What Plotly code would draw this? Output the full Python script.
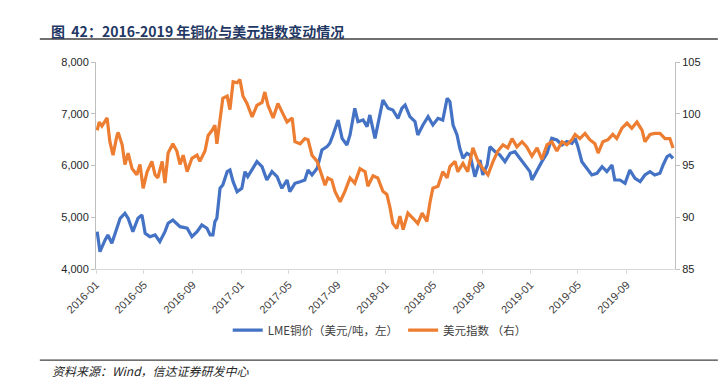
import plotly.graph_objects as go

# LME copper price (USD/t, left axis)
cu_dates = ["2016-01-04","2016-01-11","2016-01-24","2016-01-31","2016-02-10","2016-02-18","2016-03-02","2016-03-14",
            "2016-03-22","2016-04-03","2016-04-16","2016-04-26","2016-05-04","2016-05-16","2016-05-29","2016-06-10",
            "2016-06-23","2016-07-01","2016-07-13","2016-07-31","2016-08-18","2016-08-30","2016-09-12","2016-09-24",
            "2016-10-07","2016-10-15","2016-10-20","2016-10-22","2016-10-27","2016-11-01","2016-11-09","2016-11-16",
            "2016-11-27","2016-12-04","2016-12-12","2016-12-22","2017-01-03","2017-01-11","2017-01-18","2017-01-29",
            "2017-02-10","2017-02-23","2017-03-07","2017-03-20","2017-04-02","2017-04-14","2017-04-27","2017-05-04",
            "2017-05-17","2017-05-30","2017-06-11","2017-06-19","2017-06-29","2017-07-12","2017-07-24","2017-08-06",
            "2017-08-13","2017-08-21","2017-09-03","2017-09-13","2017-09-25","2017-10-03","2017-10-15","2017-10-23",
            "2017-11-05","2017-11-15","2017-11-22","2017-12-05","2017-12-18","2017-12-25","2018-01-07","2018-01-19",
            "2018-02-01","2018-02-11","2018-02-19","2018-03-03","2018-03-16","2018-03-23","2018-04-05","2018-04-18",
            "2018-04-30","2018-05-13","2018-05-25","2018-06-05","2018-06-12","2018-06-20","2018-06-30","2018-07-07",
            "2018-07-15","2018-07-25","2018-08-02","2018-08-14","2018-08-27","2018-09-03","2018-09-14","2018-09-21",
            "2018-10-04","2018-10-16","2018-10-29","2018-11-11","2018-11-23","2018-12-06","2018-12-18","2018-12-31",
            "2019-01-05","2019-01-18","2019-01-30","2019-02-12","2019-02-24","2019-03-09","2019-03-22","2019-04-03",
            "2019-04-16","2019-04-24","2019-05-01","2019-05-11","2019-05-24","2019-06-05","2019-06-18","2019-07-01",
            "2019-07-13","2019-07-26","2019-08-02","2019-08-15","2019-08-28","2019-09-09","2019-09-22","2019-10-05",
            "2019-10-17","2019-10-30","2019-11-11","2019-11-24","2019-12-02","2019-12-12","2019-12-19","2019-12-27"]
cu_values = [4722,4335,4561,4658,4497,4690,4980,5077,
             4980,4722,4980,5044,4690,4625,4658,4528,
             4722,4884,4947,4818,4787,4625,4722,4851,
             4787,4658,4658,4660,4915,4980,5560,5624,
             5881,5913,5688,5494,5560,5881,5784,5913,
             6074,5977,5720,5881,5784,5560,5720,5494,
             5656,5688,5720,5913,5817,5946,6300,6364,
             6429,6590,6879,6525,6396,6590,7106,6847,
             6879,6750,6976,6525,6976,7266,7106,7073,
             6912,7106,7169,6943,6847,6590,6783,6943,
             6783,6912,6879,7298,7233,6783,6590,6332,
             6139,6236,6203,5784,6107,5817,6010,6364,
             6267,6203,6074,6236,6267,6139,6010,5881,
             5720,5913,6074,6236,6525,6493,6396,6461,
             6429,6525,6364,6074,5946,5817,5850,5977,
             5881,6010,5720,5720,5656,5913,5753,5688,
             5817,5881,5817,5850,6010,6171,6203,6139]

# US dollar index (right axis)
dx_dates = ["2016-01-04","2016-01-09","2016-01-16","2016-01-29","2016-02-05","2016-02-13","2016-02-23","2016-02-26",
            "2016-03-07","2016-03-14","2016-03-22","2016-04-01","2016-04-13","2016-04-21","2016-04-29","2016-05-09",
            "2016-05-21","2016-05-29","2016-06-05","2016-06-16","2016-06-23","2016-07-01","2016-07-13","2016-07-23",
            "2016-07-31","2016-08-08","2016-08-18","2016-08-30","2016-09-12","2016-09-19","2016-10-02","2016-10-10",
            "2016-10-20","2016-10-27","2016-11-01","2016-11-09","2016-11-16","2016-11-27","2016-12-04","2016-12-12",
            "2016-12-22","2016-12-29","2017-01-06","2017-01-16","2017-01-29","2017-02-10","2017-02-23","2017-03-02",
            "2017-03-10","2017-03-23","2017-04-04","2017-04-14","2017-04-27","2017-05-10","2017-05-17","2017-05-30",
            "2017-06-11","2017-06-19","2017-06-29","2017-07-12","2017-07-24","2017-08-01","2017-08-08","2017-08-18",
            "2017-08-26","2017-09-08","2017-09-20","2017-10-03","2017-10-15","2017-10-28","2017-11-10","2017-11-17",
            "2017-11-30","2017-12-12","2017-12-25","2018-01-04","2018-01-12","2018-01-19","2018-01-29","2018-02-06",
            "2018-02-14","2018-02-26","2018-03-11","2018-03-23","2018-04-03","2018-04-15","2018-04-23","2018-04-30",
            "2018-05-13","2018-05-25","2018-06-05","2018-06-12","2018-06-25","2018-07-02","2018-07-15","2018-07-27",
            "2018-08-09","2018-08-22","2018-09-03","2018-09-16","2018-09-29","2018-10-11","2018-10-24","2018-11-05",
            "2018-11-16","2018-11-28","2018-12-11","2018-12-23","2019-01-05","2019-01-18","2019-01-30","2019-02-12",
            "2019-02-24","2019-03-09","2019-03-22","2019-04-03","2019-04-16","2019-04-24","2019-05-06","2019-05-19",
            "2019-05-31","2019-06-13","2019-06-21","2019-07-03","2019-07-16","2019-07-28","2019-08-07","2019-08-20",
            "2019-09-02","2019-09-14","2019-09-27","2019-10-10","2019-10-17","2019-10-30","2019-11-11","2019-11-24",
            "2019-12-07","2019-12-19","2019-12-27"]
dx_values = [98.4,99.2,98.8,99.6,97.3,96.0,97.9,98.2,
             97.0,95.1,96.2,94.7,94.1,95.1,92.8,94.4,
             95.4,94.1,93.8,95.4,93.3,96.2,97.1,96.4,
             95.1,96.0,94.4,95.7,96.0,95.4,96.4,97.9,
             98.4,98.9,97.1,99.2,101.5,101.7,100.4,103.1,
             103.0,103.3,101.7,101.0,99.7,100.8,101.1,102.1,
             100.8,99.6,101.0,100.2,99.2,99.6,97.3,97.1,
             97.6,97.5,96.0,95.4,94.1,93.1,93.8,93.6,
             92.5,91.5,92.5,93.8,93.3,94.7,94.4,93.0,
             94.0,93.8,92.5,92.2,90.9,89.4,88.9,90.1,
             88.8,90.4,89.9,89.4,90.4,89.6,91.5,92.8,
             93.0,94.4,93.8,94.9,95.4,94.4,95.2,94.4,
             96.7,95.4,94.7,94.1,95.4,96.4,97.0,96.7,
             97.6,96.8,97.3,96.8,95.9,96.7,95.6,97.0,
             97.3,96.4,97.3,97.0,97.5,98.0,97.6,98.1,
             97.5,97.1,96.2,97.3,97.5,98.0,97.6,98.6,
             99.1,98.6,99.2,98.4,97.3,98.0,98.1,98.1,
             97.6,97.6,96.7]

x_tickvals = ["2016-01-01","2016-05-01","2016-09-01","2017-01-01","2017-05-01","2017-09-01",
              "2018-01-01","2018-05-01","2018-09-01","2019-01-01","2019-05-01","2019-09-01"]
x_ticktext = ["2016-01","2016-05","2016-09","2017-01","2017-05","2017-09",
              "2018-01","2018-05","2018-09","2019-01","2019-05","2019-09"]
left_ticks = [4000, 5000, 6000, 7000, 8000]
right_ticks = [85, 90, 95, 100, 105]

title_text = "图  42：2016-2019 年铜价与美元指数变动情况"
source_text = "资料来源：Wind，信达证券研发中心"
name_cu = "LME铜价（美元/吨，左）"
name_dx = "美元指数 （右）"

FONT = "Arial, 'Liberation Sans', 'Noto Sans CJK SC', sans-serif"
CJK = "'Noto Sans CJK SC', 'Liberation Sans', sans-serif"

fig = go.Figure()
fig.add_trace(go.Scatter(x=cu_dates, y=cu_values, name=name_cu, mode="lines",
                         line=dict(color="#4472C4", width=3.2), yaxis="y"))
fig.add_trace(go.Scatter(x=dx_dates, y=dx_values, name=name_dx, mode="lines",
                         line=dict(color="#ED7D31", width=3.2), yaxis="y2"))

# the page body adds an 8px offset, so the figure is 8px smaller on each axis
fig.update_layout(
    width=719, height=376,
    margin=dict(l=88, r=52, t=54, b=115, autoexpand=False),
    paper_bgcolor="white", plot_bgcolor="white",
    font=dict(family=FONT, size=11, color="#404040"),
    showlegend=True,
    legend=dict(orientation="h", x=0.49, xanchor="center", y=-0.295, yanchor="middle",
                font=dict(family=CJK, size=11.5, color="#404040"),
                itemwidth=30, tracegroupgap=0, bgcolor="rgba(0,0,0,0)"),
    xaxis=dict(type="date", range=["2016-01-01", "2020-01-01"], automargin=False,
               tickvals=x_tickvals, ticktext=x_ticktext, tickangle=-45,
               showgrid=False, zeroline=False, showline=True, linecolor="#D9D9D9", linewidth=1,
               ticks="outside", ticklen=4, tickcolor="#D9D9D9",
               tickfont=dict(family=FONT, size=11, color="#404040")),
    yaxis=dict(range=[4000, 8000], tickvals=left_ticks, tickformat=",", automargin=False,
               showgrid=False, zeroline=False, showline=True, linecolor="#BFBFBF", linewidth=1,
               ticks="outside", ticklen=4, tickcolor="#BFBFBF",
               tickfont=dict(family=FONT, size=11, color="#262626")),
    yaxis2=dict(range=[85, 105], tickvals=right_ticks, overlaying="y", side="right", automargin=False,
                showgrid=False, zeroline=False, showline=True, linecolor="#BFBFBF", linewidth=1,
                ticks="outside", ticklen=4, tickcolor="#BFBFBF",
                tickfont=dict(family=FONT, size=11, color="#262626")),
    annotations=[
        dict(text="<b>" + title_text + "</b>", xref="paper", yref="paper", x=-0.081, y=1.148,
             xanchor="left", yanchor="middle", showarrow=False,
             font=dict(family=CJK, size=14, color="#1F3864")),
        dict(text="<i>" + source_text + "</i>", xref="paper", yref="paper", x=-0.079, y=-0.488,
             xanchor="left", yanchor="middle", showarrow=False,
             font=dict(family=CJK, size=12, color="#262626")),
    ],
    shapes=[
        dict(type="line", xref="paper", yref="paper", x0=-0.097, x1=1.074, y0=1.111, y1=1.111,
             line=dict(color="#404040", width=1.5)),
        dict(type="line", xref="paper", yref="paper", x0=-0.097, x1=1.074, y0=-0.44, y1=-0.44,
             line=dict(color="#404040", width=1.2)),
    ],
)

fig.write_html("out.html")
